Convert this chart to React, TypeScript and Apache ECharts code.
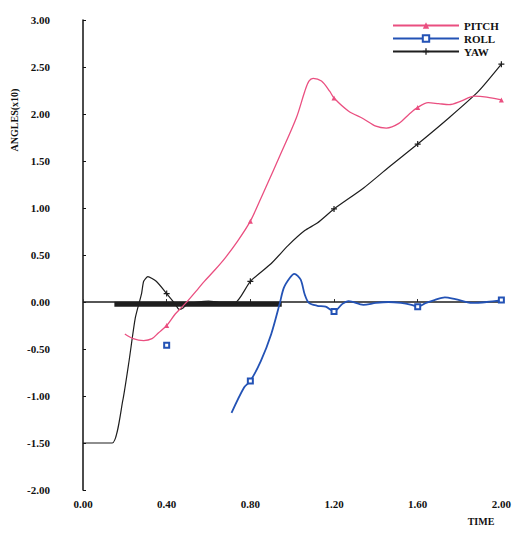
import React, { useEffect, useRef } from "react";
import * as echarts from "echarts";

// ---- data (time, angle x10) ----
const pitchT = [0.20, 0.24, 0.29, 0.33, 0.36, 0.40, 0.44, 0.47, 0.50, 0.55, 0.58, 0.63, 0.68, 0.74, 0.80, 0.85, 0.88, 0.94, 1.02, 1.06, 1.08, 1.10, 1.14, 1.18, 1.20, 1.27, 1.34, 1.40, 1.45, 1.51, 1.56, 1.60, 1.65, 1.70, 1.75, 1.81, 1.87, 1.93, 2.00];
const pitchV = [-0.34, -0.39, -0.41, -0.39, -0.33, -0.25, -0.13, -0.06, 0.01, 0.14, 0.22, 0.34, 0.47, 0.65, 0.86, 1.10, 1.25, 1.55, 1.96, 2.24, 2.35, 2.38, 2.35, 2.24, 2.17, 2.03, 1.95, 1.87, 1.85, 1.90, 2.00, 2.07, 2.12, 2.11, 2.10, 2.14, 2.19, 2.18, 2.15];

const yawT = [0.00, 0.14, 0.19, 0.22, 0.25, 0.28, 0.29, 0.31, 0.35, 0.40, 0.44, 0.46, 0.48, 0.50, 0.55, 0.60, 0.65, 0.70, 0.73, 0.80, 0.90, 0.98, 1.06, 1.12, 1.20, 1.34, 1.46, 1.60, 1.75, 1.89, 2.00];
const yawV = [-1.5, -1.5, -1.05, -0.63, -0.17, 0.09, 0.22, 0.27, 0.22, 0.09, -0.02, -0.08, -0.06, -0.02, 0.0, 0.01, 0.0, 0.0, 0.0, 0.22, 0.41, 0.60, 0.76, 0.84, 0.99, 1.21, 1.43, 1.68, 1.96, 2.24, 2.53];

const rollStrayT = [0.40];
const rollStrayV = [-0.46];
const rollT = [0.71, 0.77, 0.80, 0.85, 0.90, 0.94, 0.96, 0.99, 1.01, 1.04, 1.06, 1.08, 1.12, 1.16, 1.20, 1.24, 1.27, 1.34, 1.40, 1.46, 1.52, 1.57, 1.60, 1.64, 1.68, 1.73, 1.78, 1.86, 1.93, 2.00];
const rollV = [-1.18, -0.91, -0.84, -0.63, -0.34, -0.02, 0.15, 0.26, 0.30, 0.24, 0.08, -0.01, -0.04, -0.05, -0.10, -0.02, 0.01, -0.03, -0.01, 0.0, -0.01, -0.03, -0.05, -0.01, 0.02, 0.05, 0.03, -0.01, 0.0, 0.02];

const markerTimes = [0.40, 0.80, 1.20, 1.60, 2.00];

const zeroLineT = [0.0, 2.0];
const zeroLineV = [0.0, 0.0];
const bandT = [0.15, 0.95];
const bandV = [-0.025, -0.025];

const PINK = "#ea4f80";
const BLUE = "#2352b5";
const BLACK = "#1e1e1e";
const FONT = "'Liberation Serif', 'DejaVu Serif', serif";

function build(ts: number[], vs: number[]) {
  return ts.map((t, i) => {
    const marked = markerTimes.some((m) => Math.abs(m - t) < 1e-6);
    return marked ? { value: [t, vs[i]] } : { value: [t, vs[i]], symbol: "none" };
  });
}

function pairs(ts: number[], vs: number[]) {
  return ts.map((t, i) => [t, vs[i]]);
}

export default function App() {
  const ref = useRef<HTMLDivElement>(null);
  useEffect(() => {
    if (!ref.current) return;
    const chart = echarts.init(ref.current, undefined, { renderer: "svg" });
    const rollData: any[] = [
      ...build(rollStrayT, rollStrayV),
      "-",
      ...build(rollT, rollV),
    ];
    chart.setOption({
      animation: false,
      backgroundColor: "#ffffff",
      grid: { left: 83, right: 7, top: 20, bottom: 49, containLabel: false },
      legend: {
        data: ["PITCH", "ROLL", "YAW"],
        orient: "vertical",
        left: 387,
        top: 15,
        itemWidth: 66,
        itemHeight: 8,
        itemGap: 2,
        textStyle: { fontFamily: FONT, fontWeight: "bold", fontSize: 11, color: "#111" },
      },
      xAxis: {
        type: "value",
        min: 0,
        max: 2,
        interval: 0.4,
        axisLine: { show: false },
        axisTick: { show: true, inside: true, length: 3, lineStyle: { color: "#333" } },
        splitLine: { show: false },
        axisLabel: {
          margin: 8,
          fontFamily: FONT,
          fontWeight: "bold",
          fontSize: 11,
          color: "#111",
          formatter: (v: number) => v.toFixed(2),
        },
      },
      yAxis: {
        type: "value",
        min: -2,
        max: 3,
        interval: 0.5,
        axisLine: { show: true, onZero: false, lineStyle: { color: "#111", width: 1.5 } },
        axisTick: { show: true, inside: true, length: 3, lineStyle: { color: "#111" } },
        splitLine: { show: false },
        axisLabel: {
          margin: 33,
          fontFamily: FONT,
          fontWeight: "bold",
          fontSize: 11,
          color: "#111",
          formatter: (v: number) => v.toFixed(2),
        },
      },
      graphic: [
        {
          type: "text",
          x: 14,
          y: 120,
          rotation: Math.PI / 2,
          style: {
            text: "ANGLES(x10)",
            fontFamily: FONT,
            fontWeight: "bold",
            fontSize: 10,
            fill: "#111",
            textAlign: "center",
            textVerticalAlign: "middle",
          },
        },
        {
          type: "text",
          x: 481,
          y: 521,
          style: {
            text: "TIME",
            fontFamily: FONT,
            fontWeight: "bold",
            fontSize: 10,
            fill: "#111",
            textAlign: "center",
            textVerticalAlign: "middle",
          },
        },
      ],
      series: [
        {
          name: "zero",
          type: "line",
          data: pairs(zeroLineT, zeroLineV),
          symbol: "none",
          silent: true,
          lineStyle: { color: BLACK, width: 1.5 },
          z: 1,
        },
        {
          name: "band",
          type: "line",
          data: pairs(bandT, bandV),
          symbol: "none",
          silent: true,
          lineStyle: { color: BLACK, width: 5 },
          z: 1,
        },
        {
          name: "YAW",
          type: "line",
          data: build(yawT, yawV),
          smooth: 0.2,
          symbol: "path://M4,0H6V4H10V6H6V10H4V6H0V4H4Z",
          symbolSize: 6,
          itemStyle: { color: BLACK },
          lineStyle: { color: BLACK, width: 1.2 },
          z: 3,
        },
        {
          name: "PITCH",
          type: "line",
          data: build(pitchT, pitchV),
          smooth: 0.3,
          symbol: "triangle",
          symbolSize: 5,
          itemStyle: { color: PINK },
          lineStyle: { color: PINK, width: 1.3 },
          z: 4,
        },
        {
          name: "ROLL",
          type: "line",
          data: rollData,
          smooth: 0.3,
          connectNulls: false,
          symbol: "emptyRect",
          symbolSize: 5,
          itemStyle: { color: BLUE, borderWidth: 1.5 },
          lineStyle: { color: BLUE, width: 1.8 },
          z: 5,
        },
      ],
    });
    return () => chart.dispose();
  }, []);
  return <div ref={ref} style={{ width: 514, height: 539, position: "absolute", left: 0, top: 0 }} />;
}
